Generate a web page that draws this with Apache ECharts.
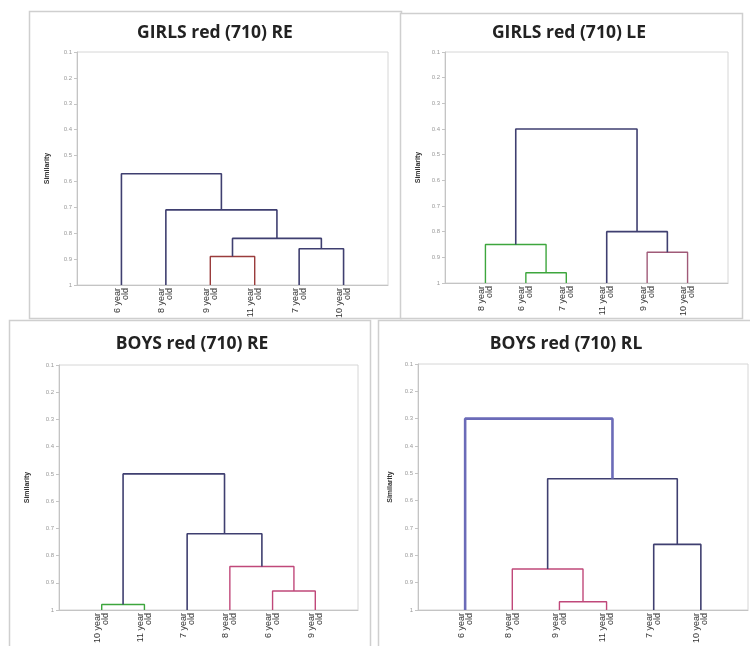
<!DOCTYPE html>
<html><head><meta charset="utf-8">
<script src="https://cdn.jsdelivr.net/npm/echarts@6/dist/echarts.min.js"></script>
<style>html,body{margin:0;padding:0;background:#fff}#c{width:750px;height:646px}</style>
</head><body><div id="c"></div>
<script>
// ---- data ----
const titles = ["GIRLS red (710) RE", "GIRLS red (710) LE", "BOYS red (710) RE", "BOYS red (710) RL"];
const yAxisName = "Similarity";
const yTickMin = 0.1, yTickMax = 1, yTickStep = 0.1;

const leavesGirlsRE = ["6 year old", "8 year old", "9 year old", "11 year old", "7 year old", "10 year old"];
const leavesGirlsLE = ["8 year old", "6 year old", "7 year old", "11 year old", "9 year old", "10 year old"];
const leavesBoysRE  = ["10 year old", "11 year old", "7 year old", "8 year old", "6 year old", "9 year old"];
const leavesBoysRL  = ["6 year old", "8 year old", "9 year old", "11 year old", "7 year old", "10 year old"];

// merges: [childA, childB, similarity, cluster]; leaves are 0..5, merges numbered 6.. in order
const mergesGirlsRE = [[2, 3, 0.89, "red"], [4, 5, 0.86, "navy"], [6, 7, 0.82, "navy"], [1, 8, 0.71, "navy"], [0, 9, 0.57, "navy"]];
const mergesGirlsLE = [[1, 2, 0.96, "green"], [0, 6, 0.85, "green"], [4, 5, 0.88, "mauve"], [3, 8, 0.80, "navy"], [7, 9, 0.40, "navy"]];
const mergesBoysRE  = [[0, 1, 0.98, "green"], [4, 5, 0.93, "pink"], [3, 7, 0.84, "pink"], [2, 8, 0.72, "navy"], [6, 9, 0.50, "navy"]];
const mergesBoysRL  = [[2, 3, 0.97, "pink"], [1, 6, 0.85, "pink"], [4, 5, 0.76, "navy"], [7, 8, 0.52, "navy"], [0, 9, 0.30, "blue"]];

// ---- styling ----
const clusterColors = { navy: "#3f3f70", red: "#9a3c3c", green: "#3da63d", mauve: "#a05a78", pink: "#c0487a", blue: "#6b6bb8" };
const clusterWidths = { navy: 1.6, red: 1.4, green: 1.4, mauve: 1.4, pink: 1.4, blue: 2.6 };
const grids = [
  { left: 77, top: 52, width: 311, height: 233 },
  { left: 445, top: 52, width: 283, height: 231 },
  { left: 59, top: 365, width: 299, height: 248 },
  { left: 418, top: 364, width: 330, height: 249 }
];
const frames = [[29, 11, 372, 307], [400, 13, 342, 305], [9, 320, 361, 340], [378, 320, 380, 340]];
const titlePos = [[215, 33], [569, 33], [192, 344], [566, 344]];
const nameGaps = [26, 23, 28, 24];

const panels = [
  [leavesGirlsRE, mergesGirlsRE], [leavesGirlsLE, mergesGirlsLE],
  [leavesBoysRE, mergesBoysRE], [leavesBoysRL, mergesBoysRL]
];

const series = [], xAxes = [], yAxes = [], gridOpts = [], graphics = [];
panels.forEach(([leaves, merges], p) => {
  const n = leaves.length;
  const nodeX = [], nodeY = [];
  leaves.forEach((_, i) => { nodeX.push(i + 1); nodeY.push(1); });
  merges.forEach(([a, b, h, c]) => {
    series.push({
      type: "line", xAxisIndex: p, yAxisIndex: p, symbol: "none", silent: true, animation: false,
      lineStyle: { color: clusterColors[c], width: clusterWidths[c] },
      data: [[nodeX[a], nodeY[a]], [nodeX[a], h], [nodeX[b], h], [nodeX[b], nodeY[b]]]
    });
    nodeX.push((nodeX[a] + nodeX[b]) / 2);
    nodeY.push(h);
  });
  gridOpts.push(Object.assign({ show: true, borderColor: "#d6d6d6", borderWidth: 1, backgroundColor: "#fff" }, grids[p]));
  xAxes.push({
    type: "value", gridIndex: p, min: 0, max: n + 1, interval: 1,
    axisLine: { show: true, onZero: false, lineStyle: { color: "#c4c4c4" } },
    axisTick: { show: false }, splitLine: { show: false },
    axisLabel: {
      rotate: 90, margin: 3, fontSize: 9, lineHeight: 8, color: "#333", fontFamily: "Liberation Sans",
      showMinLabel: true, showMaxLabel: true,
      formatter: v => { const l = leaves[Math.round(v) - 1]; return l ? l.replace(" old", "\nold") : ""; }
    }
  });
  yAxes.push({
    type: "value", gridIndex: p, inverse: true, min: yTickMin, max: yTickMax, interval: yTickStep,
    axisLine: { show: true, lineStyle: { color: "#c4c4c4" } },
    axisTick: { show: true, length: 3, lineStyle: { color: "#c4c4c4" } },
    splitLine: { show: false },
    axisLabel: { fontSize: 6, color: "#9a9a9a", margin: 5, formatter: v => String(Math.round(v * 10) / 10) },
    name: yAxisName, nameLocation: "middle", nameGap: nameGaps[p],
    nameTextStyle: { fontSize: 7, fontWeight: "bold", color: "#333", fontFamily: "Liberation Sans" }
  });
  const f = frames[p];
  graphics.push({ type: "rect", z: -10, shape: { x: f[0] + 0.5, y: f[1] + 0.5, width: f[2], height: f[3] }, style: { fill: "#fff", stroke: "#cfcfcf", lineWidth: 1.5 } });
  graphics.push({ type: "text", z: 10, style: { x: titlePos[p][0], y: titlePos[p][1], text: titles[p], textAlign: "center", textVerticalAlign: "middle", font: "bold 17.5px 'Open Sans'", fill: "#222" } });
});

const chart = echarts.init(document.getElementById("c"), null, { renderer: "canvas" });
chart.setOption({
  animation: false, backgroundColor: "#fff",
  grid: gridOpts, xAxis: xAxes, yAxis: yAxes, series: series, graphic: graphics
});
</script></body></html>
